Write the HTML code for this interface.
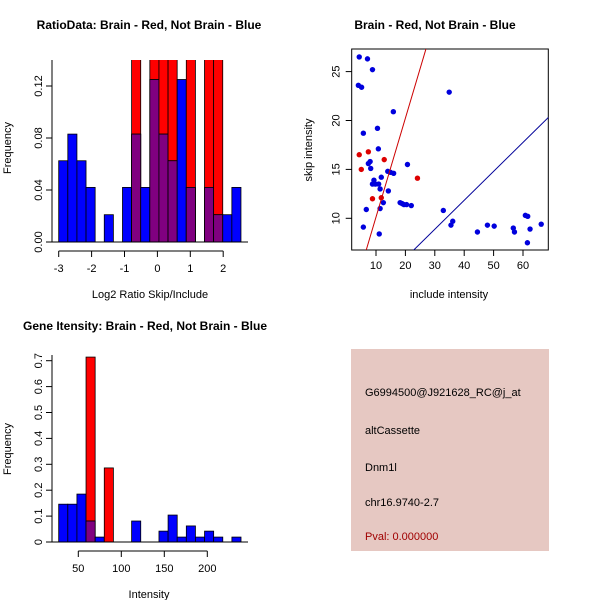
<!DOCTYPE html>
<html><head><meta charset="utf-8"><style>
body{margin:0;background:#fff}
svg{display:block;font-family:"Liberation Sans",sans-serif}
</style></head><body>
<svg id="s" width="600" height="600" viewBox="0 0 600 600">
<rect width="600" height="600" fill="#fff"/>
<text x="149" y="29" font-size="12" font-weight="bold" text-anchor="middle">RatioData: Brain - Red, Not Brain - Blue</text>
<text x="435" y="29" font-size="12" font-weight="bold" text-anchor="middle">Brain - Red, Not Brain - Blue</text>
<text x="145" y="330" font-size="12" font-weight="bold" text-anchor="middle">Gene Itensity: Brain - Red, Not Brain - Blue</text>
<g id="p1"></g>
<g id="p2"></g>
<g id="p3"></g>
<g>
<rect x="351" y="349" width="198" height="202" fill="#e6c8c2"/>
<g font-size="11">
<text x="365" y="396">G6994500@J921628_RC@j_at</text>
<text x="365" y="434">altCassette</text>
<text x="365" y="471">Dnm1l</text>
<text x="365" y="506">chr16.9740-2.7</text>
<text x="365" y="540" fill="#a00000">Pval: 0.000000</text>
</g></g>
</svg>
<script>
// ratio histogram data
const ratioStart = -3, ratioWidth = 0.277;
const ratioBlue = [0.0625,0.083,0.0625,0.042,0,0.021,0,0.042,0.083,0.042,0.125,0.083,0.0625,0.125,0.042,0,0.042,0.021,0.021,0.042];
const ratioRed  = [0,0,0,0,0,0,0,0,0.2,0,0.2,0.2,0.2,0,0.2,0,0.2,0.2,0,0];
const ratioXTicks = [-3,-2,-1,0,1,2];
const ratioYTicks = [0,0.04,0.08,0.12];
// intensity histogram data
const intStart = 27.2, intWidth = 10.6;
const intBlue = [0.146,0.146,0.185,0.081,0.019,0,0,0,0.081,0,0,0.042,0.104,0.019,0.062,0.019,0.042,0.019,0,0.019];
const intRed  = [0,0,0,0.714,0,0.286,0,0,0,0,0,0,0,0,0,0,0,0,0,0];
const intXTicks = [50,100,150,200];
const intYTicks = [0,0.1,0.2,0.3,0.4,0.5,0.6,0.7];
// scatter data
const blueX = [4.3,7.1,8.8,4.0,5.1,34.9,15.9,10.5,5.7,10.8,8.0,7.4,8.2,20.7,14.0,14.9,16.0,11.8,9.3,8.8,9.8,10.9,11.4,14.2,12.5,18.2,18.9,19.5,20.4,22.0,11.4,6.7,32.9,5.7,11.1,36.1,35.5,47.9,50.2,44.5,56.7,57.1,60.8,61.6,62.4,61.5,66.2];
const blueY = [26.5,26.3,25.2,23.6,23.4,22.9,20.9,19.2,18.7,17.1,15.8,15.6,15.1,15.5,14.8,14.7,14.6,14.2,13.9,13.5,13.5,13.5,13.0,12.8,11.6,11.6,11.5,11.4,11.4,11.3,11.0,10.9,10.8,9.1,8.4,9.7,9.3,9.3,9.2,8.6,9.0,8.6,10.3,10.2,8.9,7.5,9.4];
const redX = [4.3,7.4,5.0,12.8,24.1,8.8,11.8];
const redY = [16.5,16.8,15.0,16.0,14.1,12.0,12.1];
const redLine = [0.0, 1.012]; // intercept, slope
const blueLine = [0.0, 0.296];
const scXTicks = [10,20,30,40,50,60];
const scYTicks = [10,15,20,25];

const NS="http://www.w3.org/2000/svg";
function mk(parent,tag,attrs){const e=document.createElementNS(NS,tag);for(const k in attrs)e.setAttribute(k,attrs[k]);parent.appendChild(e);return e;}

function hist(g,o){
  const sx=v=>o.x0px+(v-o.x0)*o.kx, sy=v=>o.y0px-v*o.ky;
  const cid=o.id+"clip";
  const cp=mk(g,"clipPath",{id:cid});mk(cp,"rect",{x:0,y:o.top,width:600,height:o.y0px-o.top+1});
  const bg=mk(g,"g",{"clip-path":`url(#${cid})`});
  for(let i=0;i<o.blue.length;i++){
    const xa=sx(o.start+i*o.w), xb=sx(o.start+(i+1)*o.w);
    const b=o.blue[i], r=o.red[i], m=Math.min(b,r);
    if(r>0){const e=mk(bg,"rect",{x:xa,y:sy(r),width:xb-xa,height:sy(0)-sy(r),fill:"#ff0000",stroke:"#000","stroke-width":0.8});
      
      }
    if(b>0){const e=mk(bg,"rect",{x:xa,y:sy(b),width:xb-xa,height:sy(0)-sy(b),fill:"#0000ff",stroke:"#000","stroke-width":0.8});
      
      }
    if(m>0){const e=mk(bg,"rect",{x:xa,y:sy(m),width:xb-xa,height:sy(0)-sy(m),fill:"#800080",stroke:"#000","stroke-width":0.8});
      
      }
  }
  const yt=o.yticks, ax=o.axX;
  mk(g,"line",{x1:ax,x2:ax,y1:o.top,y2:sy(0),stroke:"#000"});
  yt.forEach(v=>{mk(g,"line",{x1:ax-6,x2:ax,y1:sy(v),y2:sy(v),stroke:"#000"});
    const t=mk(g,"text",{x:0,y:0,"font-size":11,"text-anchor":"middle",transform:`translate(${ax-10},${sy(v)}) rotate(-90)`});t.textContent=o.yfmt(v);
    
    });
  mk(g,"line",{x1:o.axX,x2:o.xend,y1:sy(0),y2:sy(0),stroke:"#000"});
  const xt=o.xticks, ay=sy(0)+9;
  mk(g,"line",{x1:sx(xt[0]),x2:sx(xt[xt.length-1]),y1:ay,y2:ay,stroke:"#000"});
  xt.forEach(v=>{mk(g,"line",{x1:sx(v),x2:sx(v),y1:ay,y2:ay+6,stroke:"#000"});
    const t=mk(g,"text",{x:sx(v),y:ay+21,"font-size":11,"text-anchor":"middle"});t.textContent=v;
    
    });
  const xl=mk(g,"text",{x:o.xlabX,y:o.xlabY,"font-size":11,"text-anchor":"middle"});xl.textContent=o.xlab;
  
  
  const yl=mk(g,"text",{x:0,y:0,"font-size":11,"text-anchor":"middle",transform:`translate(11,${o.ylabY}) rotate(-90)`});yl.textContent="Frequency";
  
  
}

hist(document.getElementById("p1"),{id:"h1",x0:-3,x0px:58.7,kx:32.9,y0px:242,ky:1300,top:60,start:ratioStart,w:ratioWidth,blue:ratioBlue,red:ratioRed,
  yticks:ratioYTicks,xticks:ratioXTicks,axX:52,xend:248,yfmt:v=>v.toFixed(2),xlab:"Log2 Ratio Skip/Include",xlabX:150,xlabY:298,ylabY:148});
hist(document.getElementById("p3"),{id:"h3",x0:50,x0px:78.3,kx:0.86,y0px:542,ky:259,top:355,start:intStart,w:intWidth,blue:intBlue,red:intRed,
  yticks:intYTicks,xticks:intXTicks,axX:52,xend:248,yfmt:v=>String(v),xlab:"Intensity",xlabX:149,xlabY:598,ylabY:449});

(function(){
  const g=document.getElementById("p2");
  const L=351.7,R=548.3,T=49,B=250;
  const sx=v=>376+(v-10)*2.94, sy=v=>218.3-(v-10)*9.78;
  const cp=mk(g,"clipPath",{id:"scclip"});mk(cp,"rect",{x:L,y:T,width:R-L,height:B-T});
  mk(g,"rect",{x:L,y:T,width:R-L,height:B-T,fill:"none",stroke:"#000"});
  const pg=mk(g,"g",{"clip-path":"url(#scclip)"});
  blueX.forEach((x,i)=>{const c=mk(pg,"circle",{cx:sx(x),cy:sy(blueY[i]),r:2.7,fill:"#0000dd"});
    
    });
  redX.forEach((x,i)=>{const c=mk(pg,"circle",{cx:sx(x),cy:sy(redY[i]),r:2.7,fill:"#dd0000"});
    
    });
  const xa=0,xb=80;
  const rl=mk(pg,"line",{x1:sx(xa),y1:sy(redLine[0]+redLine[1]*xa),x2:sx(xb),y2:sy(redLine[0]+redLine[1]*xb),stroke:"#cc0000"});
  
  
  const bl=mk(pg,"line",{x1:sx(xa),y1:sy(blueLine[0]+blueLine[1]*xa),x2:sx(xb),y2:sy(blueLine[0]+blueLine[1]*xb),stroke:"#000099"});
  
  
  scXTicks.forEach(v=>{mk(g,"line",{x1:sx(v),x2:sx(v),y1:B,y2:B+6,stroke:"#000"});
    const t=mk(g,"text",{x:sx(v),y:B+19,"font-size":11,"text-anchor":"middle"});t.textContent=v;
    
    });
  scYTicks.forEach(v=>{mk(g,"line",{x1:L-6,x2:L,y1:sy(v),y2:sy(v),stroke:"#000"});
    const t=mk(g,"text",{x:0,y:0,"font-size":11,"text-anchor":"middle",transform:`translate(${L-12},${sy(v)}) rotate(-90)`});t.textContent=v;
    
    });
  const xl=mk(g,"text",{x:449,y:298,"font-size":11,"text-anchor":"middle"});xl.textContent="include intensity";
  
  
  const yl=mk(g,"text",{x:0,y:0,"font-size":11,"text-anchor":"middle",transform:"translate(312,150) rotate(-90)"});yl.textContent="skip intensity";
  
  
})();
</script>
</body></html>
